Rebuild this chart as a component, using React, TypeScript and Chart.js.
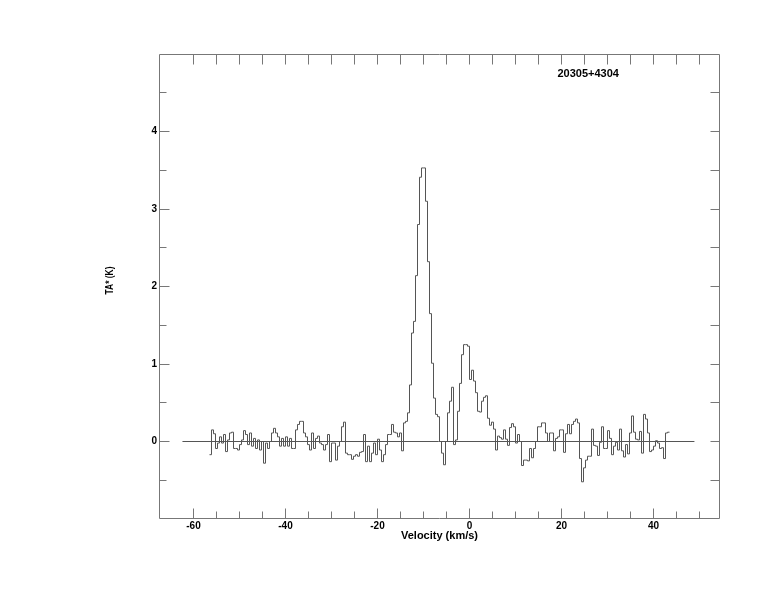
import React, { useEffect, useRef } from 'react';
import { Chart, registerables } from 'chart.js';

Chart.register(...registerables);

// ---- text ----
const SOURCE_NAME = '20305+4304';
const X_TITLE = 'Velocity (km/s)';
const Y_TITLE = 'TA* (K)';

// ---- channel grid (km/s) ----
const V_START = -56.52; // left edge of first channel
const V_STEP = 0.4348; // channel width

// ---- antenna temperature per channel (K) ----
const TA_PART_1 = [
  -0.17, 0.15, 0.10, -0.09, -0.02, 0.06, -0.02, 0.09, -0.13, 0.02,
  0.11, 0.12, -0.09, -0.09, -0.11, -0.04, 0.02, 0.14, 0.09, -0.04,
  0.11, -0.06, 0.04, -0.09, 0.02, -0.11, 0.00, -0.28, -0.02, -0.09,
  0.00, 0.11, 0.17, 0.11, 0.06, -0.06, 0.04, -0.06, 0.06, -0.06,
  0.04, -0.09, -0.09, 0.15, 0.22, 0.26, 0.26, 0.11, 0.06, -0.04,
];
const TA_PART_2 = [
  -0.11, 0.11, -0.09, 0.04, 0.07, -0.02, -0.04, -0.11, -0.04, 0.09,
  -0.26, -0.02, -0.02, -0.24, -0.06, 0.00, 0.19, 0.25, -0.15, -0.17,
  -0.17, -0.23, -0.19, -0.17, -0.19, -0.14, -0.13, 0.09, -0.26, -0.06,
  -0.26, -0.15, -0.02, -0.17, 0.03, -0.11, -0.26, -0.17, -0.04, 0.09,
  0.09, 0.22, 0.12, 0.11, 0.06, 0.11, -0.12,
];
const TA_PART_3 = [
  0.24, 0.26, 0.37, 0.73, 1.40, 1.55, 2.14, 2.80, 3.41, 3.53,
  3.53, 3.10, 2.32, 1.65, 1.01, 0.56, 0.35, 0.32, 0.00, -0.15,
  -0.30, 0.00, 0.37, 0.52, 0.70, -0.04, 0.02, 0.39, 0.75, 1.12,
  1.25, 1.25, 1.23, 0.80, 0.92, 0.78, 0.63, 0.39, 0.38, 0.52,
  0.57, 0.59, 0.30, 0.21, 0.25, 0.16, -0.11, 0.07, 0.05, 0.03,
  0.15, 0.03, -0.05, 0.18, 0.23, 0.19, -0.02, 0.09,
];
const TA_PART_4 = [
  0.00, -0.31, -0.24, -0.24, -0.25, -0.09, -0.21, -0.09, 0.00, 0.19,
  0.19, 0.24, 0.24, 0.11, 0.00, 0.11, 0.11, -0.12, 0.04, 0.06,
  0.15, 0.15, -0.14, 0.10, 0.22, 0.10, 0.22, 0.26, 0.29, 0.24,
  -0.22, -0.52, -0.34, -0.24, -0.19, -0.19, 0.16, -0.05, -0.06, -0.18,
  -0.01, 0.19, -0.09, -0.09, 0.14, 0.04, -0.17, -0.06, -0.01, -0.11,
  0.16, -0.12, -0.20, -0.04, -0.16, 0.11, 0.33, 0.12, 0.03, 0.02,
  0.13, -0.15, 0.35, 0.29, 0.11, -0.13, -0.11, -0.06, 0.01, -0.02,
  -0.09, -0.08, -0.22, 0.11, 0.12,
];

// ---- zero baseline extent (km/s) ----
const BASELINE_V = [-62.4, 48.9];

// ---- axes ----
const X_RANGE = [-67.5, 54.46];
const Y_RANGE = [-1, 5];
const X_LABEL_TICKS = [-60, -40, -20, 0, 20, 40];
const X_MINOR_TICKS = [-60, -55, -50, -45, -40, -35, -30, -25, -20, -15, -10, -5, 0, 5, 10, 15, 20, 25, 30, 35, 40, 45, 50];
const Y_LABEL_TICKS = [0, 1, 2, 3, 4];
const Y_MINOR_TICKS = [-0.5, 0, 0.5, 1, 1.5, 2, 2.5, 3, 3.5, 4, 4.5];

// source label position (data coords)
const SOURCE_POS = { x: 25.8, y: 4.74 };

const FONT_FAMILY = "'Liberation Sans', Arial, Helvetica, sans-serif";
const FRAME_COLOR = '#777777';
const LINE_COLOR = '#555555';

const framePlugin = {
  id: 'framePlugin',
  afterDraw(chart: any) {
    const { ctx, chartArea: a, scales } = chart;
    const xs = scales.x;
    const ys = scales.y;
    const snap = (p: number) => Math.round(p - 0.5) + 0.5;
    const L = a.left + 0.5;
    const R = a.right - 0.5;
    const T = a.top + 0.5;
    const B = a.bottom - 0.5;
    ctx.save();
    ctx.strokeStyle = FRAME_COLOR;
    ctx.lineWidth = 1;
    ctx.beginPath();
    ctx.rect(L, T, R - L, B - T);
    X_MINOR_TICKS.forEach((v) => {
      const px = snap(xs.getPixelForValue(v));
      const len = X_LABEL_TICKS.includes(v) ? 10 : 7;
      ctx.moveTo(px, B);
      ctx.lineTo(px, B - len);
      ctx.moveTo(px, T);
      ctx.lineTo(px, T + 10);
    });
    Y_MINOR_TICKS.forEach((v) => {
      const py = snap(ys.getPixelForValue(v));
      const len = Y_LABEL_TICKS.includes(v) ? 10 : 7;
      ctx.moveTo(L, py);
      ctx.lineTo(L + len, py);
      ctx.moveTo(R, py);
      ctx.lineTo(R - 9, py);
    });
    ctx.stroke();

    ctx.fillStyle = '#000';
    ctx.font = `bold 11px ${FONT_FAMILY}`;
    ctx.textAlign = 'center';
    ctx.textBaseline = 'middle';
    ctx.fillText(X_TITLE, (a.left + a.right) / 2, a.bottom + 17);
    ctx.fillText(SOURCE_NAME, xs.getPixelForValue(SOURCE_POS.x), ys.getPixelForValue(SOURCE_POS.y));
    // vertical axis title: narrow bold text, rotated
    ctx.save();
    ctx.font = `bold 10px ${FONT_FAMILY}`;
    const w = ctx.measureText(Y_TITLE).width;
    ctx.translate(a.left - 49, (a.top + a.bottom) / 2 - 6);
    ctx.rotate(-Math.PI / 2);
    ctx.scale(Math.min(1, 28 / w), 1);
    ctx.fillText(Y_TITLE, 0, 0);
    ctx.restore();
    ctx.restore();
  },
};

export default function App() {
  const ref = useRef<HTMLCanvasElement>(null);

  useEffect(() => {
    document.body.style.margin = '0';
    const ta = [...TA_PART_1, ...TA_PART_2, ...TA_PART_3, ...TA_PART_4];
    const spectrum = ta.map((y, k) => ({ x: V_START + k * V_STEP, y }));
    spectrum.push({ x: V_START + ta.length * V_STEP, y: ta[ta.length - 1] });
    const baseline = BASELINE_V.map((x) => ({ x, y: 0 }));

    const tickFont = { family: FONT_FAMILY, size: 10, weight: 'bold' as const };

    const chart = new Chart(ref.current as HTMLCanvasElement, {
      type: 'line',
      data: {
        datasets: [
          {
            data: baseline,
            borderColor: LINE_COLOR,
            borderWidth: 1,
            pointRadius: 0,
            fill: false,
          },
          {
            data: spectrum,
            borderColor: LINE_COLOR,
            borderWidth: 1,
            pointRadius: 0,
            fill: false,
            stepped: 'before',
          },
        ],
      },
      options: {
        animation: false,
        responsive: false,
        devicePixelRatio: 1,
        layout: { padding: { left: 129, right: 54, top: 54, bottom: 68 } },
        plugins: { legend: { display: false }, tooltip: { enabled: false }, title: { display: false } },
        events: [],
        scales: {
          x: {
            type: 'linear',
            min: X_RANGE[0],
            max: X_RANGE[1],
            grid: { display: false, drawTicks: false, tickLength: 0 },
            border: { display: false },
            afterBuildTicks: (s: any) => {
              s.ticks = X_LABEL_TICKS.map((value) => ({ value }));
            },
            afterFit: (s: any) => {
              s.height = 25;
            },
            ticks: {
              font: tickFont,
              color: '#000',
              padding: 1,
              maxRotation: 0,
              autoSkip: false,
              callback: (v: any) => String(v),
            },
          },
          y: {
            type: 'linear',
            min: Y_RANGE[0],
            max: Y_RANGE[1],
            grid: { display: false, drawTicks: false, tickLength: 0 },
            border: { display: false },
            afterBuildTicks: (s: any) => {
              s.ticks = Y_LABEL_TICKS.map((value) => ({ value }));
            },
            afterFit: (s: any) => {
              s.width = 30;
            },
            ticks: {
              font: tickFont,
              color: '#000',
              padding: 2,
              autoSkip: false,
              callback: (v: any) => String(v),
            },
          },
        },
      },
      plugins: [framePlugin],
    } as any);

    return () => chart.destroy();
  }, []);

  return (
    <canvas
      ref={ref}
      width={774}
      height={612}
      style={{ display: 'block', width: 774, height: 612 }}
    />
  );
}
